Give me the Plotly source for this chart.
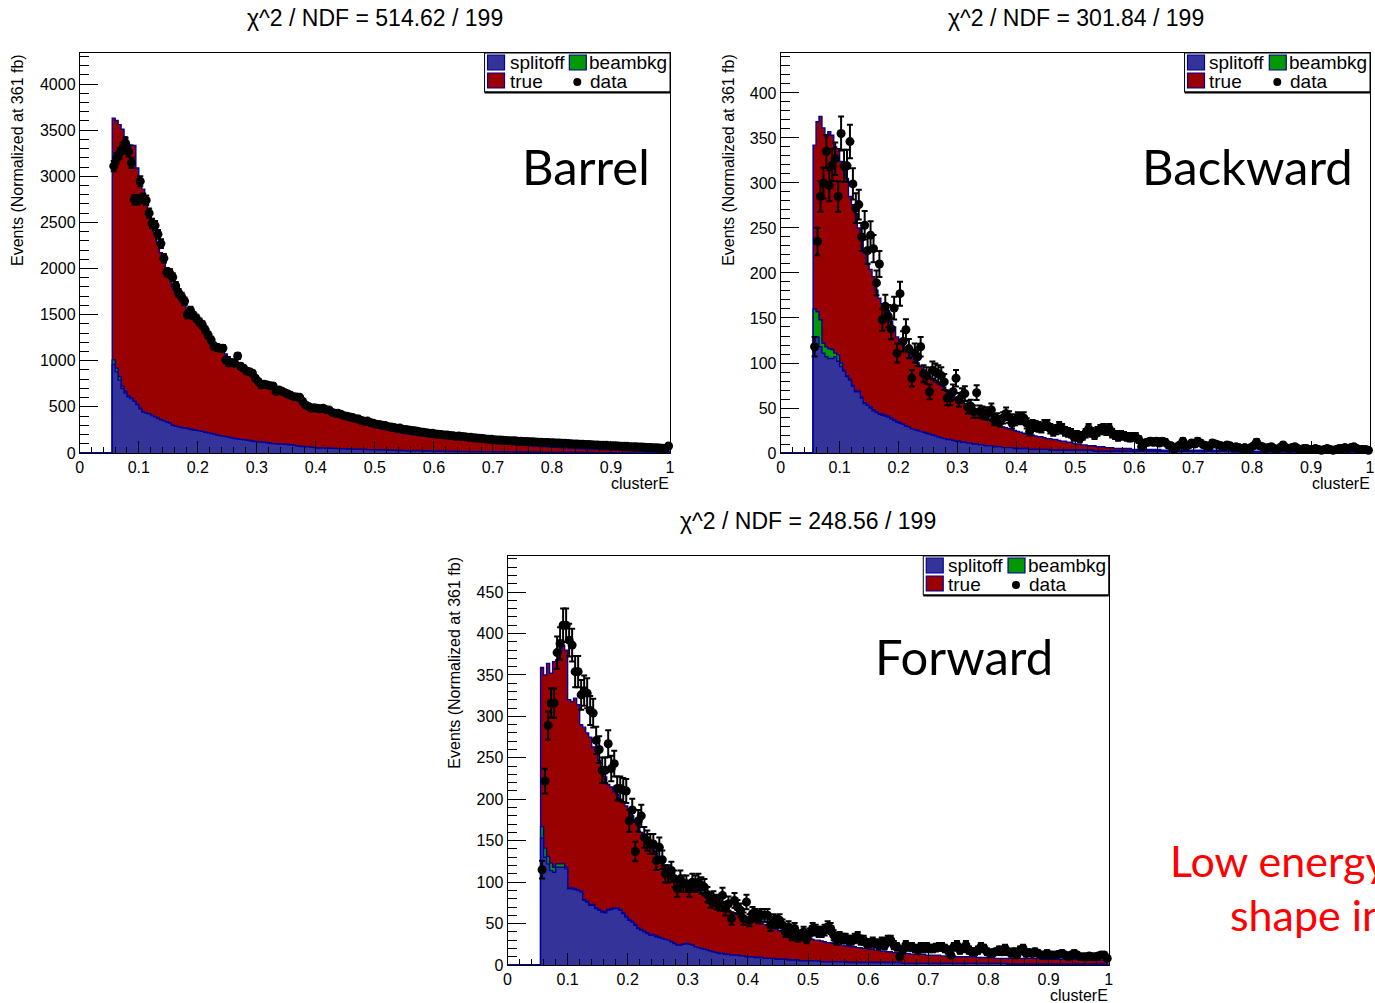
import math
import plotly.graph_objects as go

W, H = 1375, 1003
N_BINS = 200          # clusterE histograms: 200 bins on [0, 1]
BIN_W = 0.005
FIRST_BIN = 11        # bins below clusterE = 0.055 are empty

# ---------------------------------------------------------------- Barrel
barrel_stack = [  # top of the MC stack (splitoff + beambkg + true)
    3630, 3605, 3560, 3510, 3430, 3345, 3340, 3335, 3090, 2950,
    2860, 2750, 2620, 2480, 2380, 2270, 2170, 2070, 1980, 1890,
    1810, 1750, 1695, 1650, 1600, 1550, 1500, 1460, 1420, 1385,
    1350, 1310, 1275, 1240, 1205, 1170, 1135, 1105, 1075, 1045,
    1010, 982, 955, 928, 903, 878, 855, 833, 811, 790,
    770, 750, 731, 713, 696, 679, 663, 647, 632, 617,
    602, 588, 574, 560, 547, 534, 521, 509, 497, 485,
    473, 462, 448, 438, 424, 414, 400, 391, 378, 369,
    357, 347, 337, 327, 318, 309, 300, 292, 284, 276,
    268, 261, 254, 247, 240, 234, 228, 222, 217, 212,
    206, 201, 197, 193, 189, 185, 181, 177, 173, 170,
    166, 163, 159, 156, 153, 150, 147, 144, 141, 138,
    135, 132, 129, 126, 123, 120, 117, 114, 111, 108,
    105, 103, 100, 98, 95, 93, 90, 88, 86, 84,
    81, 79, 77, 75, 73, 71, 69, 67, 65, 63,
    61, 59, 57, 55, 54, 52, 50, 49, 47, 46,
    44, 43, 42, 40, 39, 38, 37, 35, 34, 33,
    32, 31, 30, 29, 28, 26, 25, 24, 23, 22,
    21, 20, 19, 18, 17, 16, 15, 14, 13,
]
barrel_splitoff = [
    960, 880, 790, 700, 650, 610, 590, 560, 525, 480,
    445, 432, 425, 405, 392, 375, 360, 350, 335, 325,
    300, 290, 285, 275, 270, 265, 258, 250, 245, 240,
    235, 225, 218, 212, 205, 195, 188, 182, 178, 172,
    165, 158, 152, 148, 145, 140, 135, 128, 124, 122,
    120, 116, 112, 105, 102, 100, 98, 96, 94, 92,
    88, 84, 78, 74, 71, 68, 66, 62, 58, 55,
    54, 53, 52, 51, 50, 49, 48, 46, 45, 44,
    43, 42, 41, 40, 39, 38, 37, 36, 35, 34,
    33, 32, 31, 30, 30, 29, 28, 27, 27, 26,
    25, 25, 24, 23, 23, 22, 21, 21, 20, 20,
    19, 19, 18, 18, 17, 17, 16, 16, 15, 15,
    15, 14, 14, 13, 13, 13, 12, 12, 12, 11,
    11, 11, 10, 10, 10, 10, 9, 9, 9, 9,
    8, 8, 8, 8, 8, 7, 7, 7, 7, 7,
    6, 6, 6, 6, 6, 6, 5, 5, 5, 5,
    5, 5, 5, 4, 4, 4, 4, 4, 4, 4,
    4, 3, 3, 3, 3, 3, 3, 3, 3, 3,
    3, 3, 2, 2, 2, 2, 2, 2, 2,
]
barrel_beambkg = [  # later bins are empty
    50, 40, 35, 25, 20, 12, 8, 5, 4, 3,
    3, 2, 2, 2, 2, 2, 2, 2, 2, 2,
    1, 1, 1, 1, 1, 1, 1, 1, 1, 1,
]
barrel_data = [
    3110, 3195, 3250, 3305, 3360, 3270, 3145, 2745, 2745, 2945,
    2760, 2740, 2600, 2490, 2465, 2370, 2270, 2110, 1960, 1950,
    1905, 1810, 1735, 1695, 1645, 1500, 1545, 1490, 1460, 1420,
    1390, 1335, 1280, 1225, 1155, 1145, 1136, 1136, 1010, 975,
    980, 973, 1052, 940, 918, 890, 882, 864, 810, 774,
    738, 745, 738, 730, 727, 665, 683, 670, 654, 640,
    625, 611, 606, 604, 560, 521, 505, 485, 490, 485,
    480, 485, 470, 467, 440, 430, 430, 420, 405, 398,
    390, 384, 372, 368, 352, 344, 346, 330, 322, 312,
    310, 300, 298, 286, 282, 276, 268, 270, 258, 255,
    250, 244, 240, 236, 228, 226, 220, 213, 214, 206,
    203, 200, 196, 195, 190, 188, 182, 184, 178, 177,
    172, 170, 166, 163, 160, 158, 152, 150, 148, 144,
    141, 142, 138, 136, 134, 132, 133, 128, 127, 124,
    125, 123, 121, 120, 117, 116, 114, 114, 112, 110,
    109, 108, 106, 105, 102, 100, 99, 98, 96, 94,
    93, 92, 90, 88, 87, 85, 84, 83, 80, 79,
    78, 76, 74, 73, 72, 69, 68, 67, 65, 64,
    62, 60, 59, 57, 56, 54, 52, 50, 76,
]

# -------------------------------------------------------------- Backward
backward_stack = [
    342, 368, 374, 361, 351, 357, 353, 340, 338, 324,
    314, 305, 285, 276, 266, 250, 240, 222, 211, 204,
    196, 181, 172, 166, 163, 158, 146, 140, 129, 125,
    122, 117, 112, 107, 104, 100, 96, 92, 89, 85,
    81, 79, 77, 75, 73, 70, 67, 65, 62, 60,
    57, 55, 53, 52, 49, 46, 43, 41, 39, 37,
    35, 33, 31, 30, 29, 28, 27, 26, 25, 24,
    23, 22, 21, 20, 20, 19, 18, 18, 17, 16,
    16, 15, 15, 14, 13, 13, 12, 12, 11, 10,
    10, 9, 9, 8, 8, 8, 7, 7, 7, 6,
    6, 6, 5, 5, 5, 5, 5, 5, 4, 4,
    4, 4, 4, 4, 4, 4, 4, 4, 3, 3,
    3, 3, 3, 3, 3, 3, 3, 3, 3, 3,
    3, 3, 3, 3, 3, 3, 3, 3, 3, 3,
    3, 3, 3, 3, 3, 3, 2, 2, 2, 2,
    2, 2, 2, 2, 2, 2, 2, 2, 2, 2,
    2, 2, 2, 2, 2, 2, 2, 2, 2, 2,
    2, 2, 2, 2, 2, 2, 2, 2, 1, 1,
    1, 1, 1, 1, 1, 1, 1, 1, 1,
]
backward_splitoff = [
    129, 129, 118, 111, 107, 105, 105, 107, 102, 96,
    91, 85, 81, 74, 68, 68, 61, 55, 53, 50,
    47, 45, 43, 42, 41, 40, 38, 36, 34, 33,
    32, 30, 29, 27, 26, 25, 24, 23, 22, 21,
    20, 19, 18, 17, 16, 15, 15, 14, 13, 13,
    12, 12, 11, 11, 10, 10, 9, 9, 8, 8,
    8, 7, 7, 7, 6, 6, 6, 6, 5, 5,
    5, 5, 5, 4, 4, 4, 4, 4, 4, 4,
    3, 3, 3, 3, 3, 3, 3, 3, 3, 3,
    3, 3, 3, 3, 3, 2, 2, 2, 2, 2,
    2, 2, 2, 2, 2, 2, 2, 2, 2, 2,
    2, 2, 2, 2, 2, 2, 2, 2, 2, 2,
    2, 2, 2, 2, 2, 2, 2, 2, 2, 2,
    2, 2, 2, 2, 2, 2, 2, 2, 2, 2,
    2, 2, 1, 1, 1, 1, 1, 1, 1, 1,
    1, 1, 1, 1, 1, 1, 1, 1, 1, 1,
    1, 1, 1, 1, 1, 1, 1, 1, 1, 1,
    1, 1, 1, 1, 1, 1, 1, 1, 1, 1,
    1, 1, 1, 1, 1, 1, 1, 1, 1,
]
backward_beambkg = [
    31, 28, 30, 11, 11, 11, 10, 4, 7, 4,
    1, 1, 1, 1, 1, 1, 1, 1, 1, 1,
    1, 1, 1, 1, 1, 1, 1, 1, 1, 1,
]
backward_data = [
    118, 235, 285, 300, 335, 297, 320, 327, 285, 355,
    319, 319, 346, 299, 272, 276, 240, 253, 225, 242,
    227, 189, 210, 148, 163, 152, 138, 161, 111, 177,
    124, 137, 116, 83, 111, 107, 118, 88, 86, 68,
    92, 90, 88, 86, 79, 61, 61, 68, 83, 59,
    64, 66, 51, 52, 46, 67, 46, 45, 44, 44,
    48, 37, 38, 35, 39, 44, 40, 33, 37, 39,
    38, 39, 33, 24, 31, 30, 29, 28, 31, 31,
    27, 24, 26, 29, 27, 24, 23, 22, 18, 20,
    16, 19, 22, 27, 23, 20, 24, 26, 27, 25,
    27, 22, 20, 18, 20, 19, 18, 17, 18, 18,
    15, 7, 11, 12, 13, 12, 13, 11, 13, 12,
    9, 8, 4, 7, 9, 13, 7, 9, 11, 10,
    13, 11, 9, 8, 7, 11, 10, 9, 8, 7,
    9, 8, 6, 7, 6, 5, 6, 4, 6, 8,
    12, 8, 7, 5, 6, 7, 5, 4, 6, 9,
    6, 5, 6, 7, 5, 4, 5, 5, 4, 4,
    5, 4, 3, 4, 5, 4, 3, 4, 5, 5,
    6, 5, 6, 7, 5, 4, 4, 4, 3,
]

# --------------------------------------------------------------- Forward
forward_stack = [
    359, 350, 364, 352, 366, 368, 376, 386, 380, 320,
    318, 322, 314, 290, 287, 280, 275, 263, 258, 247,
    232, 227, 218, 215, 209, 206, 200, 197, 192, 187,
    180, 172, 168, 160, 157, 150, 146, 143, 135, 130,
    125, 120, 116, 112, 108, 104, 102, 100, 99, 98,
    96, 94, 92, 88, 84, 80, 78, 76, 74, 72,
    70, 68, 66, 64, 63, 61, 60, 58, 57, 56,
    54, 53, 51, 50, 49, 48, 46, 45, 43, 42,
    41, 40, 39, 38, 37, 36, 35, 34, 33, 32,
    31, 30, 30, 29, 28, 27, 27, 26, 25, 25,
    24, 23, 23, 22, 22, 21, 21, 20, 20, 19,
    19, 18, 18, 17, 17, 16, 16, 15, 15, 14,
    14, 14, 14, 13, 13, 13, 13, 13, 12, 12,
    12, 12, 12, 11, 11, 11, 11, 11, 10, 10,
    10, 10, 10, 10, 10, 9, 9, 9, 9, 9,
    9, 8, 8, 8, 8, 8, 8, 8, 8, 8,
    8, 8, 8, 8, 8, 8, 7, 7, 7, 7,
    7, 7, 7, 7, 7, 7, 7, 7, 7, 6,
    6, 6, 6, 6, 6, 6, 6, 6, 6,
]
forward_splitoff = [
    153, 130, 122, 114, 112, 118, 118, 118, 116, 92,
    92, 91, 90, 88, 78, 76, 72, 72, 68, 66,
    64, 63, 66, 67, 68, 68, 66, 62, 58, 54,
    52, 48, 44, 42, 40, 38, 36, 36, 34, 33,
    32, 31, 30, 28, 26, 24, 24, 25, 26, 25,
    24, 22, 21, 20, 19, 18, 17, 16, 15, 14,
    14, 13, 13, 12, 12, 12, 11, 11, 10, 10,
    10, 9, 9, 9, 8, 8, 8, 8, 7, 7,
    7, 7, 6, 6, 6, 6, 5, 5, 5, 5,
    5, 5, 5, 4, 4, 4, 4, 4, 4, 4,
    4, 4, 3, 3, 3, 3, 3, 3, 3, 3,
    3, 3, 3, 3, 3, 3, 3, 3, 3, 3,
    2, 2, 2, 2, 2, 2, 2, 2, 2, 2,
    2, 2, 2, 2, 2, 2, 2, 2, 2, 2,
    2, 2, 2, 2, 2, 2, 2, 2, 2, 2,
    2, 2, 2, 2, 2, 1, 1, 1, 1, 1,
    1, 1, 1, 1, 1, 1, 1, 1, 1, 1,
    1, 1, 1, 1, 1, 1, 1, 1, 1, 1,
    1, 1, 1, 1, 1, 1, 1, 1, 1,
]
forward_beambkg = [
    14, 11, 9, 9, 6, 4, 4, 4, 2, 1,
    1, 1, 1, 1, 1, 1, 1, 1, 1, 1,
    1, 1, 1, 1, 1, 1, 1, 1, 1, 1,
    1, 1, 1, 1, 1, 1, 1, 1, 1, 1,
]
forward_data = [
    115, 222, 289, 316, 316, 377, 388, 410, 410, 392,
    386, 354, 354, 326, 331, 328, 307, 304, 271, 260,
    235, 235, 267, 237, 243, 213, 213, 211, 210, 174,
    187, 137, 174, 180, 154, 150, 146, 146, 126, 142,
    127, 110, 110, 114, 104, 92, 104, 98, 98, 92,
    100, 98, 100, 96, 94, 85, 78, 80, 76, 74,
    84, 68, 74, 56, 78, 70, 66, 56, 76, 54,
    62, 60, 58, 60, 60, 60, 48, 54, 52, 54,
    48, 40, 46, 36, 44, 34, 36, 40, 32, 38,
    44, 42, 40, 40, 42, 46, 44, 36, 30, 34,
    32, 32, 30, 30, 32, 34, 30, 30, 26, 26,
    28, 26, 24, 28, 24, 30, 30, 24, 22, 10,
    18, 24, 22, 22, 20, 18, 22, 20, 22, 20,
    20, 21, 22, 22, 20, 18, 12, 22, 24, 18,
    20, 24, 18, 16, 16, 18, 22, 20, 16, 14,
    15, 16, 18, 16, 20, 16, 14, 16, 12, 18,
    20, 14, 15, 14, 16, 14, 12, 12, 14, 12,
    12, 12, 13, 14, 12, 10, 12, 14, 12, 10,
    10, 10, 11, 10, 10, 11, 12, 12, 8,
]

panel_names = ["Barrel", "Backward", "Forward"]
chi2_values = ["514.62", "301.84", "248.56"]
ndf_values = [199, 199, 199]

# ------------------------------------------------------------ styling
NAVY = "#000099"
BLUE = "#333399"
GREEN = "#009900"
RED = "#990000"
FONT = "Liberation Sans"
BIG_FONT = "Lato"

# frame of each pad in pixels: left, top, right, bottom
FRAMES = [(78, 53, 670, 453), (781, 53, 1373, 453), (507, 556, 1110, 965)]
Y_TOPS = [4336, 444.4, 493.5]
Y_DTICK = [500, 50, 50]
Y_MINOR = [100, 10, 10]
Y_TITLE_X = [15, 728, 453]
NAME_POS = [(586, 166), (1249, 166), (965, 656)]

# the page is displayed slightly shrunk; layout pixels are pre-scaled
SX, OX, SY = 0.9964, 2.0, 0.991


def fx(x):
    return ((x - OX) / SX) / W


def fy(y):
    return 1 - (y / SY) / H


def clamp(v):
    return min(max(v, 0.0), 1.0)


def full(values):
    vals = [0] * FIRST_BIN + list(values)
    vals = (vals + [0] * N_BINS)[:N_BINS]
    return vals


edges = [i * BIN_W for i in range(N_BINS + 1)]
centers = [(i + 0.5) * BIN_W for i in range(N_BINS)]

series = [
    (barrel_stack, barrel_splitoff, barrel_beambkg, barrel_data),
    (backward_stack, backward_splitoff, backward_beambkg, backward_data),
    (forward_stack, forward_splitoff, forward_beambkg, forward_data),
]

fig = go.Figure()
annotations = []
shapes = []


def ann(text, x, y, size, xanchor="center", yanchor="middle",
        color="black", family=FONT, angle=0):
    annotations.append(dict(
        text=text, x=fx(x), y=fy(y), xref="paper", yref="paper",
        showarrow=False, xanchor=xanchor, yanchor=yanchor,
        textangle=angle, borderpad=0,
        font=dict(family=family, size=size, color=color)))


for k, (stack, splitoff, beambkg, data) in enumerate(series):
    sfx = "" if k == 0 else str(k + 1)
    xa, ya = "x" + sfx, "y" + sfx
    s = full(splitoff)
    b = full(beambkg)
    tot = full(stack)
    true = [max(t - a - c, 0) for t, a, c in zip(tot, s, b)]
    level_sb = [a + c for a, c in zip(s, b)]
    level_all = [a + t for a, t in zip(level_sb, true)]

    # stacked histogram: true on top of beambkg on top of splitoff
    for level, colour in ((level_all, RED), (level_sb, GREEN), (s, BLUE)):
        fig.add_trace(go.Scatter(
            x=edges, y=level + [level[-1]], mode="lines",
            line=dict(shape="hv", color=NAVY, width=1.4),
            fill="tozeroy", fillcolor=colour,
            hoverinfo="skip", showlegend=False, xaxis=xa, yaxis=ya))

    d = full(data)
    dx = [c for c, v in zip(centers, d) if v > 0]
    dy = [v for v in d if v > 0]
    fig.add_trace(go.Scatter(
        x=dx, y=dy, mode="markers",
        marker=dict(color="black", size=9),
        error_y=dict(type="data", array=[math.sqrt(v) for v in dy],
                     color="black", thickness=2, width=3),
        cliponaxis=False, showlegend=False, xaxis=xa, yaxis=ya))

    x0, y0, x1, y1 = FRAMES[k]
    tickfont = dict(family=FONT, size=16, color="black")
    fig.layout["xaxis" + sfx] = dict(
        domain=[clamp(fx(x0)), clamp(fx(x1))], range=[0, 1], anchor=ya,
        tick0=0, dtick=0.1, ticks="inside", ticklen=12, tickwidth=1,
        tickcolor="black",
        minor=dict(ticks="inside", dtick=0.02, ticklen=6, tickcolor="black"),
        showline=True, linecolor="black", linewidth=1, mirror=True,
        showgrid=False, zeroline=False, tickfont=tickfont)
    fig.layout["yaxis" + sfx] = dict(
        domain=[clamp(fy(y1)), clamp(fy(y0))], range=[0, Y_TOPS[k]],
        anchor=xa,
        tick0=0, dtick=Y_DTICK[k], ticks="inside", ticklen=18, tickwidth=1,
        tickcolor="black",
        minor=dict(ticks="inside", dtick=Y_MINOR[k], ticklen=9,
                   tickcolor="black"),
        showline=True, linecolor="black", linewidth=1, mirror=True,
        showgrid=False, zeroline=False, tickfont=tickfont)

    # pad title, axis titles, region name
    ann("\u03c7^2 / NDF = %s / %d" % (chi2_values[k], ndf_values[k]),
        (x0 + x1) / 2, y0 - 35, 23)
    ann("clusterE", x1, y1 + 30, 16, xanchor="right")
    ann("Events (Normalized at 361 fb)", Y_TITLE_X[k], y0, 16,
        yanchor="top", angle=-90)
    nx, ny = NAME_POS[k]
    ann(panel_names[k], nx, ny, 49, family=BIG_FONT)

    # legend box (two columns)
    R, T = min(x1, W * SX + OX), y0
    shapes.append(dict(type="rect", xref="paper", yref="paper",
                       x0=fx(R - 186), x1=fx(R), y0=fy(T + 39), y1=fy(T),
                       line=dict(color="black", width=1),
                       fillcolor="white"))
    shapes.append(dict(type="line", xref="paper", yref="paper",
                       x0=fx(R - 186), x1=fx(R), y0=fy(T + 39.5),
                       y1=fy(T + 39.5), line=dict(color="black", width=2)))
    for (bx, by, colour) in ((R - 183, T + 2, BLUE), (R - 101, T + 2, GREEN),
                             (R - 183, T + 20, RED)):
        shapes.append(dict(type="rect", xref="paper", yref="paper",
                           x0=fx(bx), x1=fx(bx + 17), y0=fy(by + 15),
                           y1=fy(by), fillcolor=colour,
                           line=dict(color=NAVY, width=1.2)))
    shapes.append(dict(type="circle", xref="paper", yref="paper",
                       x0=fx(R - 97), x1=fx(R - 89), y0=fy(T + 33),
                       y1=fy(T + 25), fillcolor="black",
                       line=dict(color="black", width=0)))
    ann("splitoff", R - 162, T + 9, 19, xanchor="left")
    ann("beambkg", R - 82, T + 9, 19, xanchor="left")
    ann("true", R - 162, T + 28, 19, xanchor="left")
    ann("data", R - 81, T + 28, 19, xanchor="left")

# side remark, running off the right edge
ann("Low energy", 1170, 860, 43, xanchor="left", color="#ff0000",
    family=BIG_FONT)
ann("shape in", 1231, 914, 43, xanchor="left", color="#ff0000",
    family=BIG_FONT)

fig.update_layout(
    width=W, height=H, margin=dict(l=0, r=0, t=0, b=0),
    paper_bgcolor="white", plot_bgcolor="white", showlegend=False,
    font=dict(family=FONT, color="black"),
    annotations=annotations, shapes=shapes)

fig.write_html("out.html")
